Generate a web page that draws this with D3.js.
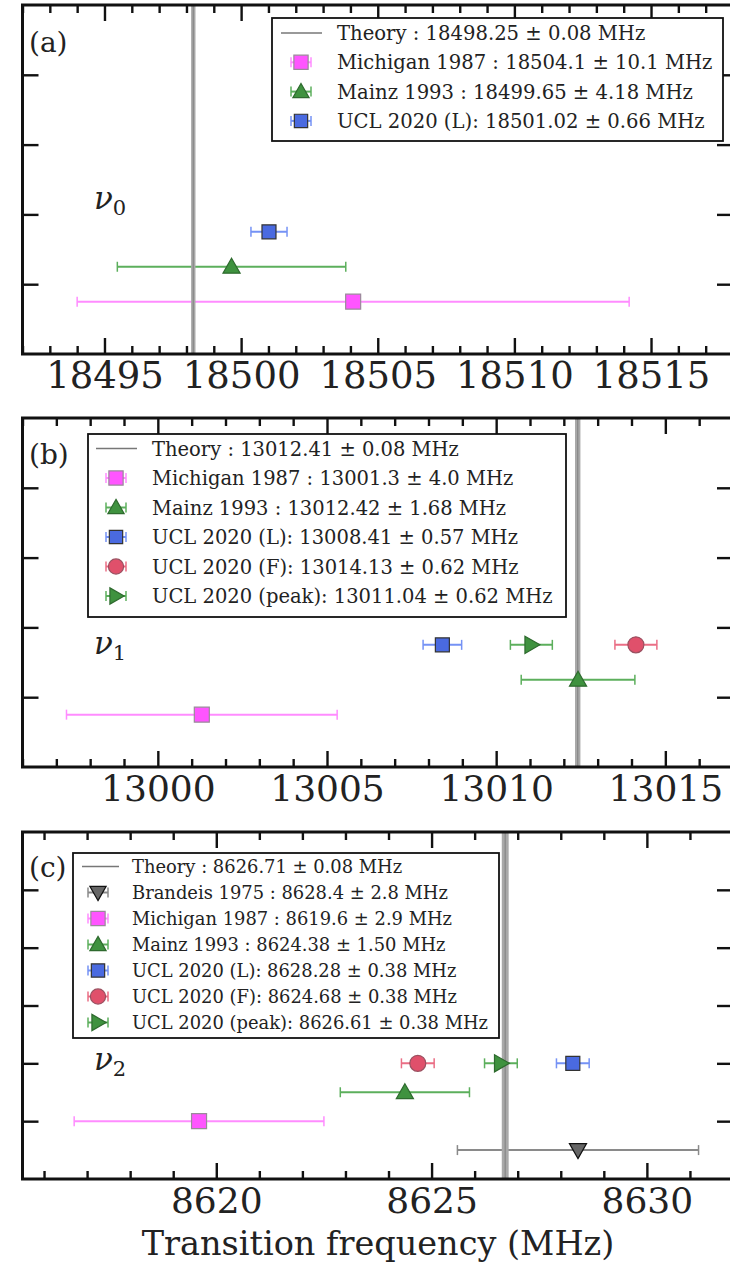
<!DOCTYPE html>
<html><head><meta charset="utf-8">
<script src="https://cdn.jsdelivr.net/npm/d3@7"></script>
<style>body{margin:0;background:#fff}svg{display:block}text{font-family:"DejaVu Serif",serif;fill:#222}</style>
</head><body><svg id="chart" width="730" height="1264"></svg>
<script>
// ---------- data ----------
const theoryValues = [18498.25, 13012.41, 8626.71];
const theoryErrors = [0.08, 0.08, 0.08];
const theoryLabels = ["Theory : 18498.25 ± 0.08 MHz", "Theory : 13012.41 ± 0.08 MHz", "Theory : 8626.71 ± 0.08 MHz"];

const seriesA = ["michigan", "mainz", "uclL"];
const valuesA = [18504.1, 18499.65, 18501.02];
const errorsA = [10.1, 4.18, 0.66];
const rowsA = [0.75, 1.25, 1.75];
const labelsA = ["Michigan 1987 : 18504.1 ± 10.1 MHz", "Mainz 1993 : 18499.65 ± 4.18 MHz", "UCL 2020 (L): 18501.02 ± 0.66 MHz"];
const ticksA = [18495, 18500, 18505, 18510, 18515];
const domainA = [18492, 18518];

const seriesB = ["michigan", "mainz", "uclL", "uclF", "uclPeak"];
const valuesB = [13001.3, 13012.42, 13008.41, 13014.13, 13011.04];
const errorsB = [4.0, 1.68, 0.57, 0.62, 0.62];
const rowsB = [0.75, 1.25, 1.75, 1.75, 1.75];
const labelsB = ["Michigan 1987 : 13001.3 ± 4.0 MHz", "Mainz 1993 : 13012.42 ± 1.68 MHz", "UCL 2020 (L): 13008.41 ± 0.57 MHz", "UCL 2020 (F): 13014.13 ± 0.62 MHz", "UCL 2020 (peak): 13011.04 ± 0.62 MHz"];
const ticksB = [13000, 13005, 13010, 13015];
const domainB = [12996, 13017];

const seriesC = ["brandeis", "michigan", "mainz", "uclL", "uclF", "uclPeak"];
const valuesC = [8628.4, 8619.6, 8624.38, 8628.28, 8624.68, 8626.61];
const errorsC = [2.8, 2.9, 1.50, 0.38, 0.38, 0.38];
const rowsC = [0.5, 1.0, 1.5, 2.0, 2.0, 2.0];
const labelsC = ["Brandeis 1975 : 8628.4 ± 2.8 MHz", "Michigan 1987 : 8619.6 ± 2.9 MHz", "Mainz 1993 : 8624.38 ± 1.50 MHz", "UCL 2020 (L): 8628.28 ± 0.38 MHz", "UCL 2020 (F): 8624.68 ± 0.38 MHz", "UCL 2020 (peak): 8626.61 ± 0.38 MHz"];
const ticksC = [8620, 8625, 8630];
const domainC = [8615.5, 8632];

const panelLetters = ["(a)", "(b)", "(c)"];
const transitionSubs = ["0", "1", "2"];
const xTitle = "Transition frequency (MHz)";

// ---------- styles ----------
const styles = {
  michigan: {shape: "square", fill: "#ff55ff", stroke: "#9a8a9a", bar: "#ff8cff", size: 15},
  mainz:    {shape: "up",     fill: "#3f923f", stroke: "#2e6a2e", bar: "#5caf5c", size: 18},
  uclL:     {shape: "square", fill: "#4a6ae0", stroke: "#333",    bar: "#7592f5", size: 14},
  uclF:     {shape: "circle", fill: "#e0506b", stroke: "#9a5060", bar: "#ea6e85", size: 16},
  uclPeak:  {shape: "right",  fill: "#3f923f", stroke: "#2e6a2e", bar: "#5caf5c", size: 18},
  brandeis: {shape: "down",   fill: "#666",    stroke: "#111",    bar: "#8a8a8a", size: 18}
};

function markerPath(shape, s) {
  const h = s / 2;
  if (shape === "square") return `M${-h},${-h}H${h}V${h}H${-h}Z`;
  if (shape === "circle") return d3.symbol(d3.symbolCircle, Math.PI * h * h)();
  const t = h * 0.95;
  if (shape === "up") return `M0,${-t}L${t},${t * 0.75}L${-t},${t * 0.75}Z`;
  if (shape === "down") return `M0,${t}L${t},${-t * 0.75}L${-t},${-t * 0.75}Z`;
  if (shape === "right") return `M${t},0L${-t * 0.75},${t}L${-t * 0.75},${-t}Z`;
}

const svg = d3.select("#chart");
const L = 22.5, R = 733;

const panels = [
  {series: seriesA, values: valuesA, errors: errorsA, rows: rowsA, labels: labelsA, ticks: ticksA, domain: domainA,
   top: 5, bottom: 354, yMax: 5, tickFont: 37,
   legend: {x0: 272, y0: 18, x1: 723, y1: 141, row0: 33, dy: 29.3, hx: 301, lx0: 281, lx1: 322, tx: 337, font: 19.6},
   nu: {row: 2.08}, letterY: 52},
  {series: seriesB, values: valuesB, errors: errorsB, rows: rowsB, labels: labelsB, ticks: ticksB, domain: domainB,
   top: 418, bottom: 767, yMax: 5, tickFont: 36,
   legend: {x0: 88, y0: 434, x1: 566, y1: 617, row0: 448.5, dy: 29.5, hx: 116, lx0: 96, lx1: 137, tx: 152, font: 19.5},
   nu: {row: 1.62}, letterY: 464},
  {series: seriesC, values: valuesC, errors: errorsC, rows: rowsC, labels: labelsC, ticks: ticksC, domain: domainC,
   top: 832, bottom: 1179, yMax: 6, tickFont: 36,
   legend: {x0: 73, y0: 853, x1: 499, y1: 1038, row0: 866.5, dy: 26, hx: 98, lx0: 82, lx1: 119, tx: 132, font: 17.9},
   nu: {row: 1.88}, letterY: 877}
];

panels.forEach((p, pi) => {
  const g = svg.append("g");
  const x = d3.scaleLinear().domain(p.domain).range([L, R]);
  const y = d3.scaleLinear().domain([0, p.yMax]).range([p.bottom, p.top]);
  const minor = d3.range(Math.ceil(p.domain[0]), Math.floor(p.domain[1]) + 1).filter(v => !p.ticks.includes(v));
  const yt = d3.range(1, p.yMax);

  const tv = theoryValues[pi], te = theoryErrors[pi];
  const data = p.series.map((k, i) => ({k, v: p.values[i], e: p.errors[i], r: p.rows[i], st: styles[k]}));
  // error bars
  const eb = g.append("g");
  data.forEach(d => {
    eb.append("line").attr("x1", x(d.v - d.e)).attr("x2", x(d.v + d.e)).attr("y1", y(d.r)).attr("y2", y(d.r))
      .attr("stroke", d.st.bar).attr("stroke-width", 2);
    [d.v - d.e, d.v + d.e].forEach(c => eb.append("line").attr("x1", x(c)).attr("x2", x(c))
      .attr("y1", y(d.r) - 5).attr("y2", y(d.r) + 5).attr("stroke", d.st.bar).attr("stroke-width", 1.5));
  });
  // theory band + line
  g.append("rect").attr("x", x(tv - te)).attr("width", x(tv + te) - x(tv - te))
    .attr("y", p.top).attr("height", p.bottom - p.top).attr("fill", "#a9a9a9");
  g.append("line").attr("x1", x(tv)).attr("x2", x(tv)).attr("y1", p.top).attr("y2", p.bottom)
    .attr("stroke", "#888").attr("stroke-width", 1.2);
  // markers
  data.forEach(d => {
    g.append("path").attr("d", markerPath(d.st.shape, d.st.size))
      .attr("transform", `translate(${x(d.v)},${y(d.r)})`)
      .attr("fill", d.st.fill).attr("stroke", d.st.stroke).attr("stroke-width", 1.2);
  });

  // axes (ticks inward)
  const axStyle = sel => { sel.select(".domain").remove(); sel.selectAll("line").attr("stroke", "#111").attr("stroke-width", 2.4); };
  g.append("g").attr("transform", `translate(0,${p.bottom})`)
    .call(d3.axisBottom(x).tickValues(p.ticks).tickSize(-16).tickPadding(8).tickFormat(d3.format("d")))
    .call(axStyle)
    .call(s => s.selectAll("text").attr("font-size", p.tickFont).attr("fill", "#222").style("font-family", "DejaVu Serif"));
  g.append("g").attr("transform", `translate(0,${p.bottom})`)
    .call(d3.axisBottom(x).tickValues(minor).tickSize(-8).tickFormat("")).call(axStyle);
  g.append("g").attr("transform", `translate(0,${p.top})`)
    .call(d3.axisTop(x).tickValues(p.ticks).tickSize(-16).tickFormat("")).call(axStyle);
  g.append("g").attr("transform", `translate(0,${p.top})`)
    .call(d3.axisTop(x).tickValues(minor).tickSize(-8).tickFormat("")).call(axStyle);
  g.append("g").attr("transform", `translate(${L},0)`)
    .call(d3.axisLeft(y).tickValues(yt).tickSize(-16).tickFormat("")).call(axStyle);
  g.append("g").attr("transform", `translate(${R},0)`)
    .call(d3.axisRight(y).tickValues(yt).tickSize(-16).tickFormat("")).call(axStyle);
  g.append("rect").attr("x", L).attr("y", p.top).attr("width", R - L).attr("height", p.bottom - p.top)
    .attr("fill", "none").attr("stroke", "#111").attr("stroke-width", 3);

  // panel letter
  g.append("text").attr("x", 29).attr("y", p.letterY).attr("font-size", 28).text(panelLetters[pi]);
  // nu label
  const nu = g.append("text").attr("x", 94).attr("y", y(p.nu.row)).attr("font-size", 31);
  nu.append("tspan").attr("font-style", "italic").text("ν");
  nu.append("tspan").attr("font-size", 21).attr("dy", 6).text(transitionSubs[pi]);

  // legend
  const lg = p.legend;
  g.append("rect").attr("x", lg.x0).attr("y", lg.y0).attr("width", lg.x1 - lg.x0).attr("height", lg.y1 - lg.y0)
    .attr("fill", "#fff").attr("stroke", "#111").attr("stroke-width", 1.8);
  g.append("line").attr("x1", lg.lx0).attr("x2", lg.lx1).attr("y1", lg.row0).attr("y2", lg.row0)
    .attr("stroke", "#777").attr("stroke-width", 1.5);
  g.append("text").attr("x", lg.tx).attr("y", lg.row0 + lg.font * 0.36).attr("font-size", lg.font).text(theoryLabels[pi]);
  data.forEach((d, i) => {
    const cy = lg.row0 + lg.dy * (i + 1);
    g.append("line").attr("x1", lg.hx - 10).attr("x2", lg.hx + 10).attr("y1", cy).attr("y2", cy).attr("stroke", d.st.bar).attr("stroke-width", 2);
    [lg.hx - 10, lg.hx + 10].forEach(c => g.append("line").attr("x1", c).attr("x2", c).attr("y1", cy - 5).attr("y2", cy + 5)
      .attr("stroke", d.st.bar).attr("stroke-width", 1.5));
    g.append("path").attr("d", markerPath(d.st.shape, d.st.size * 0.95)).attr("transform", `translate(${lg.hx},${cy})`)
      .attr("fill", d.st.fill).attr("stroke", d.st.stroke).attr("stroke-width", 1.2);
    g.append("text").attr("x", lg.tx).attr("y", cy + lg.font * 0.36).attr("font-size", lg.font).text(p.labels[i]);
  });
});

svg.append("text").attr("x", 378).attr("y", 1255).attr("text-anchor", "middle").attr("font-size", 33.5).text(xTitle);
</script></body></html>
